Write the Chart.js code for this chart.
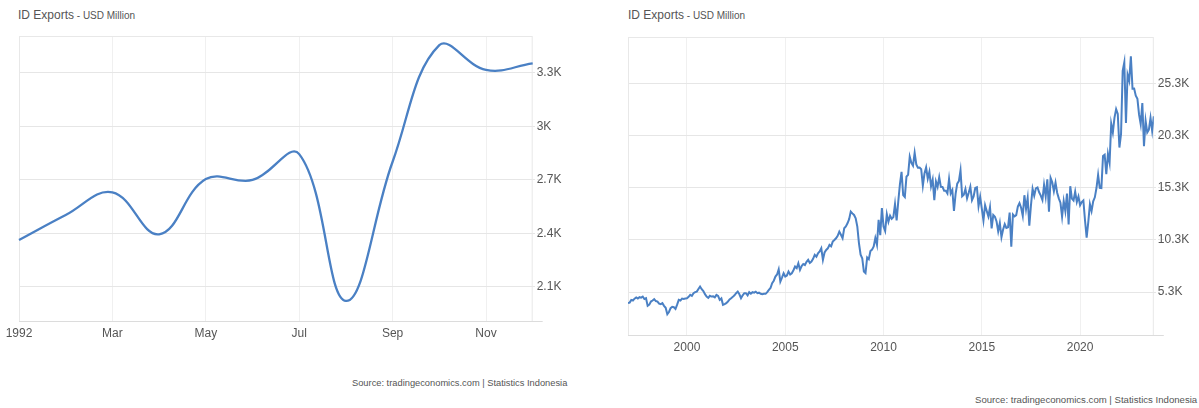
<!DOCTYPE html>
<html>
<head>
<meta charset="utf-8">
<script src="https://cdn.jsdelivr.net/npm/chart.js@4.4.1/dist/chart.umd.min.js"></script>
<style>
  html, body { margin: 0; padding: 0; background: #fff; }
  body { width: 1199px; height: 408px; position: relative; overflow: hidden;
         font-family: "Liberation Sans", Arial, sans-serif; }
  canvas { position: absolute; top: 0; }
  .title { position: absolute; top: 8px; line-height: 12px; color: #555; white-space: nowrap; }
  .title .main { font-size: 12px; }
  .title .unit { font-size: 10px; }
  .source { position: absolute; color: #555; white-space: nowrap; line-height: 10px; }
</style>
</head>
<body>
<div class="title" style="left:18px"><span class="main">ID Exports</span><span class="unit"> - USD Million</span></div>
<div class="title" style="left:628px"><span class="main">ID Exports</span><span class="unit"> - USD Million</span></div>
<canvas id="left_chart" width="600" height="360" style="left:0"></canvas>
<canvas id="right_chart" width="599" height="375" style="left:600px"></canvas>
<div class="source" style="left:352px;top:378px;font-size:9.3px">Source: tradingeconomics.com | Statistics Indonesia</div>
<div class="source" style="left:975px;top:395px;font-size:9.6px">Source: tradingeconomics.com | Statistics Indonesia</div>

<script>
// 1992 monthly exports (left chart)
const months1992 = ['1992', 'Feb', 'Mar', 'Apr', 'May', 'Jun', 'Jul', 'Aug', 'Sep', 'Oct', 'Nov', 'Dec'];
const exports1992 = [2363, 2503, 2630, 2395, 2704, 2699, 2844, 2022, 2801, 3454, 3315, 3352];
const leftTicks = [2100, 2400, 2700, 3000, 3300];
const leftTickLabels = ['2.1K', '2.4K', '2.7K', '3K', '3.3K'];

// monthly exports Jan 1997 - Oct 2023 (right chart)
const startYear = 1997;
const exportsMonthly = [
    4250, 4300, 4560, 4500, 4680, 4790, 4700, 4820, 4780, 4880, 4650, 4720,   // 1997
    3990, 4100, 4400, 4500, 4630, 4450, 4400, 4200, 4150, 4250, 3990, 3800,   // 1998
    3190, 3400, 3770, 3900, 3860, 3700, 4100, 4560, 4500, 4690, 4650, 4700,   // 1999
    4720, 4850, 5040, 4950, 5200, 5300, 5350, 5600, 5840, 5580, 5400, 5110,   // 2000
    4880, 4750, 4950, 4880, 4900, 4800, 5040, 4950, 4560, 4700, 4085, 4150,   // 2001
    4244, 4400, 4600, 4723, 4850, 5000, 5200, 5360, 5100, 4723, 5000, 5200,   // 2002
    5200, 5000, 5300, 5150, 5300, 5250, 5350, 5200, 5250, 5150, 5100, 5137,   // 2003
    5137, 5300, 5520, 5700, 6158, 6400, 6796, 7000, 7498, 6318, 6700, 7115,   // 2004
    6796, 6900, 7275, 7000, 7115, 7400, 7753, 7600, 8072, 7434, 7800, 8000,   // 2005
    7900, 8200, 8391, 8100, 8232, 8500, 8870, 8700, 9029, 9200, 9508, 8391,   // 2006
    9100, 9348, 9500, 9827, 9700, 10146, 10300, 10465, 10700, 11103, 10800, 10465, // 2007
    11422, 11600, 11900, 12300, 13016, 12850, 12697, 12378, 11581, 9986, 8900, 8550, // 2008
    7280, 7130, 8620, 8460, 9240, 9380, 9690, 10500, 9840, 12240, 10770, 13350, // 2009
    11600, 11160, 12770, 12040, 12620, 12330, 12490, 13730, 12170, 14000, 15630, 16830, // 2010
    14600, 14420, 16370, 16550, 18290, 17700, 17420, 18650, 17540, 17230, 17240, 17080, // 2011
    15500, 16670, 17250, 16170, 16830, 15440, 16090, 14120, 15900, 15390, 16320, 15390, // 2012
    15380, 15020, 15020, 14760, 16130, 14760, 15090, 13080, 14710, 15700, 15940, 16970, // 2013
    14480, 14630, 15190, 14290, 14820, 15410, 14120, 14480, 15280, 15350, 13540, 14440, // 2014
    13300, 12170, 13630, 13080, 12560, 13440, 11410, 12700, 12530, 12080, 11120, 11920, // 2015
    10580, 11310, 11810, 11450, 11510, 12920, 9650, 12750, 12570, 12680, 13500, 13830,  // 2016
    13390, 12610, 14590, 13270, 14330, 11660, 13620, 15210, 14540, 15250, 15330, 14870, // 2017
    14550, 14130, 15580, 14470, 16120, 13000, 16240, 15820, 14960, 15800, 14830, 14290, // 2018
    13870, 12530, 14030, 13070, 14740, 11780, 15450, 14260, 14080, 14930, 13940, 14470, // 2019
    13630, 13940, 14090, 12190, 10530, 12010, 13730, 13070, 14010, 14390, 15280, 16540, // 2020
    15300, 15270, 18350, 18480, 16600, 18550, 17700, 21430, 20600, 22030, 22840, 22380, // 2021
    19160, 20460, 26500, 27320, 21510, 26150, 25570, 27910, 24800, 24810, 24120, 23830, // 2022
    22310, 21400, 23420, 19290, 21720, 20610, 20880, 22000, 20760, 22150                // 2023
];
const yearTicks = [2000, 2005, 2010, 2015, 2020];
const rightTicks = [5300, 10300, 15300, 20300, 25300];
const rightTickLabels = ['5.3K', '10.3K', '15.3K', '20.3K', '25.3K'];

const lineColor = '#4a80c4';

Chart.defaults.font.family = '"Liberation Sans", Arial, sans-serif';
Chart.defaults.font.size = 12;
Chart.defaults.color = '#555';

// light box round the plot area
const frame = {
    id: 'frame',
    beforeDatasetsDraw(chart) {
        const a = chart.chartArea;
        const ctx = chart.ctx;
        ctx.save();
        ctx.strokeStyle = '#e8e8e8';
        ctx.lineWidth = 1;
        ctx.strokeRect(a.left + 0.5, a.top + 0.5, a.right - a.left - 1, a.bottom - a.top - 1);
        ctx.beginPath();
        ctx.strokeStyle = '#dcdcdc';
        ctx.moveTo(a.left, a.bottom - 0.5);
        ctx.lineTo(a.right + 10, a.bottom - 0.5);
        ctx.stroke();
        ctx.restore();
    }
};

function yAxis(ticks, labels, min, max, width) {
    return {
        position: 'right',
        min: min,
        max: max,
        afterBuildTicks: function(scale) {
            scale.ticks = ticks.map(v => ({ value: v }));
        },
        afterFit: function(scale) {
            scale.width = width;
        },
        ticks: {
            padding: -6,
            callback: function(value) {
                return labels[ticks.indexOf(value)];
            }
        },
        grid: {
            color: '#e6e6e6',
            borderDash: [2, 2],
            tickLength: 10,
            tickColor: '#e6e6e6',
            tickBorderDash: [2, 2]
        },
        border: { display: false }
    };
}

// left chart: 1992
new Chart(document.getElementById('left_chart').getContext('2d'), {
    type: 'line',
    data: {
        labels: months1992,
        datasets: [{
            data: exports1992,
            borderColor: lineColor,
            borderWidth: 2.3,
            pointRadius: 0,
            tension: 0.4,
            fill: false
        }]
    },
    options: {
        responsive: false,
        animation: false,
        layout: { padding: { left: 19, top: 36, right: 0, bottom: 0 } },
        plugins: { legend: { display: false }, tooltip: { enabled: false } },
        scales: {
            x: {
                type: 'category',
                offset: false,
                afterFit: function(scale) { scale.height = 38; },
                ticks: {
                    autoSkip: false,
                    maxRotation: 0,
                    padding: 4,
                    callback: function(value, index) {
                        return index % 2 === 0 ? months1992[index] : null;
                    }
                },
                grid: { color: '#f0f0f0', drawTicks: false },
                border: { display: false }
            },
            y: yAxis(leftTicks, leftTickLabels, 1904, 3505, 67.3)
        }
    },
    plugins: [frame]
});

// right chart: 1997 - 2023
const monthlyPoints = exportsMonthly.map((v, i) => ({ x: startYear + i / 12, y: v }));

new Chart(document.getElementById('right_chart').getContext('2d'), {
    type: 'line',
    data: {
        datasets: [{
            data: monthlyPoints,
            borderColor: lineColor,
            borderWidth: 2,
            pointRadius: 0,
            tension: 0,
            fill: false
        }]
    },
    options: {
        responsive: false,
        animation: false,
        layout: { padding: { left: 28, top: 37, right: 0, bottom: 0 } },
        plugins: { legend: { display: false }, tooltip: { enabled: false } },
        scales: {
            x: {
                type: 'linear',
                min: startYear,
                max: startYear + (exportsMonthly.length - 1) / 12,
                afterBuildTicks: function(scale) {
                    scale.ticks = yearTicks.map(v => ({ value: v }));
                },
                afterFit: function(scale) { scale.height = 39; },
                ticks: {
                    maxRotation: 0,
                    padding: 4,
                    callback: function(value) { return String(value); }
                },
                grid: { color: '#f0f0f0', drawTicks: false },
                border: { display: false }
            },
            y: yAxis(rightTicks, rightTickLabels, 1100, 29750, 45.2)
        }
    },
    plugins: [frame]
});
</script>
</body>
</html>
